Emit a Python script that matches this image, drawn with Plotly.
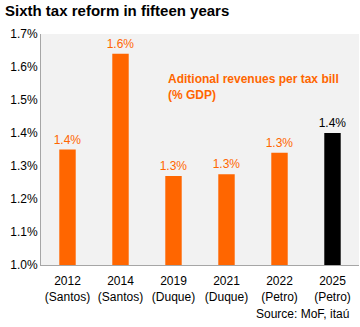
import plotly.graph_objects as go

years = ["2012", "2014", "2019", "2021", "2022", "2025"]
presidents = ["Santos", "Santos", "Duque", "Duque", "Petro", "Petro"]
values = [1.35, 1.64, 1.27, 1.275, 1.34, 1.40]
colors = ["#FF6600"] * 5 + ["#000000"]
y_ticks = [1.0, 1.1, 1.2, 1.3, 1.4, 1.5, 1.6, 1.7]

cats = [f"{y}<br>({p})" for y, p in zip(years, presidents)]
labels = [f"{v:.1f}%" for v in values]

fig = go.Figure()
fig.add_trace(go.Bar(
    x=cats, y=values, marker=dict(color=colors, line=dict(width=0)),
    width=0.31,
    text=labels, textposition="outside", constraintext="none",
    textfont=dict(color=colors, size=12, family="Arial"),
    cliponaxis=False,
))

fig.update_layout(
    width=360, height=327,
    margin=dict(l=41, r=1, t=34, b=62),
    paper_bgcolor="white", plot_bgcolor="#F2F2F2",
    font=dict(family="Arial", size=12, color="black"),
    showlegend=False,
    title=dict(text="<b>Sixth tax reform in fifteen years</b>", x=0.014, xanchor="left",
               y=0.966, yanchor="middle", font=dict(size=15, color="black")),
    xaxis=dict(showline=True, linecolor="#A6A6A6", linewidth=1, ticks="",
               ticklabelstandoff=5,
               tickfont=dict(size=12), showgrid=False),
    yaxis=dict(range=[1.0, 1.7], tickvals=y_ticks,
               ticktext=[f"{t:.1f}%" for t in y_ticks],
               showline=True, linecolor="#A6A6A6", linewidth=1, showgrid=False,
               zeroline=False, ticks="", tickfont=dict(size=12)),
    annotations=[
        dict(text="<b>Aditional revenues per tax bill<br>(% GDP)</b>",
             xref="paper", yref="paper", x=(166 - 41) / 318, y=(265 - 70) / 231,
             xanchor="left", yanchor="top", align="left", showarrow=False,
             font=dict(size=12, color="#FF6600")),
        dict(text="Source: MoF, itaú", xref="paper", yref="paper",
             x=(351 - 41) / 318, y=(265 - 314) / 231, xanchor="right", yanchor="middle",
             showarrow=False, font=dict(size=12, color="black")),
    ],
    bargap=0.69,
)

fig.write_html("out.html")
